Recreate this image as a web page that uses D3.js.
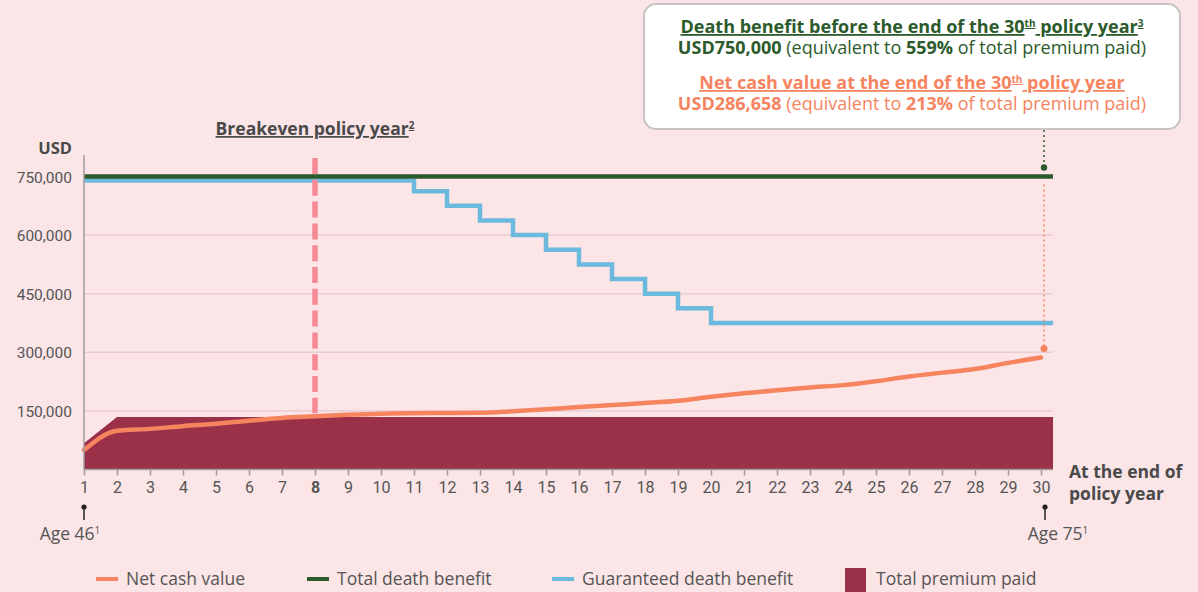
<!DOCTYPE html>
<html>
<head>
<meta charset="utf-8">
<script src="https://cdn.jsdelivr.net/npm/d3@7"></script>
<style>
  body { margin: 0; background: #fbe5e7; }
  svg { display: block; font-family: "Open Sans", "Noto Sans", sans-serif; }
  .num { font-family: Roboto, sans-serif; }
</style>
</head>
<body>
<div id="wrapper"></div>
<script>
// policy years on the x axis
const years = [1, 2, 3, 4, 5, 6, 7, 8, 9, 10, 11, 12, 13, 14, 15, 16, 17, 18, 19, 20, 21, 22, 23, 24, 25, 26, 27, 28, 29, 30];
const yTicks = [150000, 300000, 450000, 600000, 750000];

// series values (USD)
const netCashValue = [50000, 99000, 104000, 111000, 117000, 125000, 132000, 136000, 140000, 143000,
  144000, 144500, 145000, 149000, 154000, 160000, 165000, 170000, 176000, 186000,
  195000, 203000, 210000, 216000, 226000, 238000, 248000, 257000, 273000, 286658];
const totalDeathBenefit = [750000, 750000, 750000, 750000, 750000, 750000, 750000, 750000, 750000, 750000,
  750000, 750000, 750000, 750000, 750000, 750000, 750000, 750000, 750000, 750000,
  750000, 750000, 750000, 750000, 750000, 750000, 750000, 750000, 750000, 750000];
const guaranteedDeathBenefit = [740000, 740000, 740000, 740000, 740000, 740000, 740000, 740000, 740000, 740000,
  712500, 675000, 637500, 600000, 562500, 525000, 487500, 450000, 412500, 375000,
  375000, 375000, 375000, 375000, 375000, 375000, 375000, 375000, 375000, 375000];
const totalPremiumPaid = [67084, 134168, 134168, 134168, 134168, 134168, 134168, 134168, 134168, 134168,
  134168, 134168, 134168, 134168, 134168, 134168, 134168, 134168, 134168, 134168,
  134168, 134168, 134168, 134168, 134168, 134168, 134168, 134168, 134168, 134168];

const breakevenYear = 8;
const legendItems = [
  { label: "Net cash value", color: "#f6845f", type: "line" },
  { label: "Total death benefit", color: "#2b5a2b", type: "line" },
  { label: "Guaranteed death benefit", color: "#6bb9dd", type: "line" },
  { label: "Total premium paid", color: "#9b3149", type: "rect" },
];

const colors = {
  cash: "#f6845f", death: "#2b5a2b", guaranteed: "#6bb9dd", premium: "#9b3149",
  breakeven: "#f38a96", grid: "#e8cdd2", axis: "#a09a9c", text: "#555"
};

const dimensions = {
  width: 1198,
  height: 592,
  plotLeft: 84,
  plotRight: 1053,
  year30: 1041,
  baseline: 469.5,
  top750: 176.5,
};

const svg = d3.select("#wrapper").append("svg")
  .attr("width", dimensions.width)
  .attr("height", dimensions.height);

svg.append("rect").attr("width", dimensions.width).attr("height", dimensions.height).attr("fill", "#fbe5e7");

const xScale = d3.scaleLinear().domain([1, 30]).range([dimensions.plotLeft, dimensions.year30]);
const yScale = d3.scaleLinear().domain([0, 750000]).range([dimensions.baseline, dimensions.top750]);
const xEdge = xScale.invert(dimensions.plotRight);

// pair up values with years, carry the last value to the plot edge
function toPoints(values, extend) {
  const pts = years.map((y, i) => ({ year: y, value: values[i] }));
  if (extend) pts.push({ year: xEdge, value: values[values.length - 1] });
  return pts;
}

// gridlines
svg.append("g").selectAll("line")
  .data(yTicks)
  .join("line")
  .attr("x1", dimensions.plotLeft)
  .attr("x2", dimensions.plotRight)
  .attr("y1", d => yScale(d))
  .attr("y2", d => yScale(d))
  .attr("stroke", colors.grid)
  .attr("stroke-width", 1.5);

// premium area
const area = d3.area()
  .x(d => xScale(d.year))
  .y0(yScale(0))
  .y1(d => yScale(d.value));
svg.append("path")
  .datum(toPoints(totalPremiumPaid, true))
  .attr("d", area)
  .attr("fill", colors.premium);

// death benefit lines
const stepLine = d3.line()
  .x(d => xScale(d.year))
  .y(d => yScale(d.value))
  .curve(d3.curveStepAfter);

svg.append("path")
  .datum(toPoints(guaranteedDeathBenefit, true))
  .attr("d", stepLine)
  .attr("fill", "none")
  .attr("stroke", colors.guaranteed)
  .attr("stroke-width", 4.5);

svg.append("path")
  .datum(toPoints(totalDeathBenefit, true))
  .attr("d", stepLine)
  .attr("fill", "none")
  .attr("stroke", colors.death)
  .attr("stroke-width", 4.5);

// net cash value
const cashLine = d3.line()
  .x(d => xScale(d.year))
  .y(d => yScale(d.value))
  .curve(d3.curveMonotoneX);
svg.append("path")
  .datum(toPoints(netCashValue, false))
  .attr("d", cashLine)
  .attr("fill", "none")
  .attr("stroke", colors.cash)
  .attr("stroke-width", 4.5)
  .attr("stroke-linecap", "round");

// breakeven dashed line
svg.append("line")
  .attr("x1", xScale(breakevenYear))
  .attr("x2", xScale(breakevenYear))
  .attr("y1", 158)
  .attr("y2", yScale(netCashValue[breakevenYear - 1]) - 3)
  .attr("stroke", colors.breakeven)
  .attr("stroke-width", 5.5)
  .attr("stroke-dasharray", "16 5.8");

svg.append("text")
  .attr("x", xScale(breakevenYear))
  .attr("y", 135)
  .attr("text-anchor", "middle")
  .attr("font-size", 17.5)
  .attr("font-weight", "bold")
  .attr("fill", "#4a4a4a")
  .attr("text-decoration", "underline")
  .call(t => {
    t.append("tspan").text("Breakeven policy year");
    t.append("tspan").text("2").attr("font-size", 10).attr("dy", -6);
  });

// y axis
svg.append("line")
  .attr("x1", dimensions.plotLeft).attr("x2", dimensions.plotLeft)
  .attr("y1", 155).attr("y2", dimensions.baseline)
  .attr("stroke", colors.axis).attr("stroke-width", 1.5);

svg.append("g").selectAll("text")
  .data(yTicks)
  .join("text")
  .attr("class", "num")
  .attr("x", 72)
  .attr("y", d => yScale(d) + 6)
  .attr("text-anchor", "end")
  .attr("font-size", 15.5)
  .attr("fill", colors.text)
  .text(d => d3.format(",")(d));

svg.append("text")
  .attr("x", 72).attr("y", 154)
  .attr("text-anchor", "end")
  .attr("font-size", 16.5)
  .attr("font-weight", "bold")
  .attr("fill", "#4a4a4a")
  .text("USD");

// x axis
const xAxis = d3.axisBottom(xScale)
  .tickValues(years)
  .tickSize(6)
  .tickPadding(6)
  .tickFormat(d3.format("d"));

const xAxisG = svg.append("g")
  .attr("transform", `translate(0,${dimensions.baseline})`)
  .call(xAxis);
xAxisG.select(".domain")
  .attr("d", `M${dimensions.plotLeft},0H${dimensions.plotRight}`)
  .attr("stroke", colors.axis)
  .attr("stroke-width", 1.5);
xAxisG.selectAll(".tick line").attr("stroke", colors.axis).attr("stroke-width", 1.5);
xAxisG.selectAll(".tick text")
  .attr("font-size", 16)
  .attr("font-family", "Roboto, sans-serif")
  .attr("fill", colors.text)
  .attr("font-weight", d => d === breakevenYear ? "bold" : "normal");

svg.append("text")
  .attr("x", 1069).attr("y", 478)
  .attr("font-size", 17.5)
  .attr("font-weight", "bold")
  .attr("fill", "#4a4a4a")
  .call(t => {
    t.append("tspan").attr("x", 1069).text("At the end of");
    t.append("tspan").attr("x", 1069).attr("dy", 22).text("policy year");
  });

// age markers
const ageMarks = [
  { year: 1, label: "Age 46", dx: -14 },
  { year: 30, label: "Age 75", dx: 13 },
];
const ageG = svg.append("g").selectAll("g")
  .data(ageMarks)
  .join("g")
  .attr("transform", d => `translate(${xScale(d.year) + (d.year === 30 ? 4 : 0)},0)`);
ageG.append("line")
  .attr("y1", 507).attr("y2", 520)
  .attr("stroke", "#222").attr("stroke-width", 1.5);
ageG.append("circle").attr("cy", 507).attr("r", 2.6).attr("fill", "#222");
ageG.append("text")
  .attr("x", d => d.dx)
  .attr("y", 540)
  .attr("text-anchor", "middle")
  .attr("font-size", 17.5)
  .attr("fill", colors.text)
  .call(t => {
    t.append("tspan").text(d => d.label);
    t.append("tspan").text("1").attr("font-size", 10).attr("dy", -6);
  });

// annotation dots and dotted leaders
const annX = xScale(30) + 3;
svg.append("line")
  .attr("x1", annX).attr("x2", annX)
  .attr("y1", 130).attr("y2", yScale(750000) - 9)
  .attr("stroke", colors.death).attr("stroke-width", 1.5).attr("stroke-dasharray", "2 3");
svg.append("circle").attr("cx", annX).attr("cy", yScale(750000) - 9).attr("r", 3.2).attr("fill", colors.death);

svg.append("line")
  .attr("x1", annX).attr("x2", annX)
  .attr("y1", yScale(750000) + 8).attr("y2", yScale(netCashValue[29]) - 9)
  .attr("stroke", colors.cash).attr("stroke-width", 1.5).attr("stroke-dasharray", "2 3");
svg.append("circle").attr("cx", annX).attr("cy", yScale(netCashValue[29]) - 9).attr("r", 3.5).attr("fill", colors.cash);

// callout box
const box = svg.append("g");
box.append("rect")
  .attr("x", 644).attr("y", 4)
  .attr("width", 536).attr("height", 125)
  .attr("rx", 12)
  .attr("fill", "#fff")
  .attr("stroke", "#c8c4c5")
  .attr("stroke-width", 2);

const boxX = 912;
function boxLine(y, color, parts, underline) {
  const t = box.append("text")
    .attr("x", boxX).attr("y", y)
    .attr("text-anchor", "middle")
    .attr("font-size", 18)
    .attr("fill", color);
  if (underline) t.attr("text-decoration", "underline");
  parts.forEach(p => {
    const s = t.append("tspan").text(p.text);
    if (p.bold) s.attr("font-weight", "bold");
    if (p.sup) s.attr("font-size", 10).attr("dy", -6);
    if (p.down) s.attr("dy", 6);
  });
}
boxLine(33, colors.death, [
  { text: "Death benefit before the end of the 30", bold: true },
  { text: "th", bold: true, sup: true },
  { text: " policy year", bold: true, down: true },
  { text: "3", bold: true, sup: true },
], true);
boxLine(54, colors.death, [
  { text: "USD750,000", bold: true },
  { text: " (equivalent to " },
  { text: "559%", bold: true },
  { text: " of total premium paid)" },
]);
boxLine(89, colors.cash, [
  { text: "Net cash value at the end of the 30", bold: true },
  { text: "th", bold: true, sup: true },
  { text: " policy year", bold: true, down: true },
], true);
boxLine(110, colors.cash, [
  { text: "USD286,658", bold: true },
  { text: " (equivalent to " },
  { text: "213%", bold: true },
  { text: " of total premium paid)" },
]);

// legend
const legendX = [96, 307, 552, 845];
const legend = svg.append("g").selectAll("g")
  .data(legendItems)
  .join("g")
  .attr("transform", (d, i) => `translate(${legendX[i]},0)`);
legend.filter(d => d.type === "line").append("line")
  .attr("x1", 0).attr("x2", 22)
  .attr("y1", 579).attr("y2", 579)
  .attr("stroke", d => d.color)
  .attr("stroke-width", 4);
legend.filter(d => d.type === "rect").append("rect")
  .attr("x", 0).attr("y", 568)
  .attr("width", 21).attr("height", 24)
  .attr("fill", d => d.color);
legend.append("text")
  .attr("x", d => d.type === "rect" ? 31 : 30)
  .attr("y", 585)
  .attr("font-size", 17.5)
  .attr("fill", colors.text)
  .text(d => d.label);
</script>
</body>
</html>
